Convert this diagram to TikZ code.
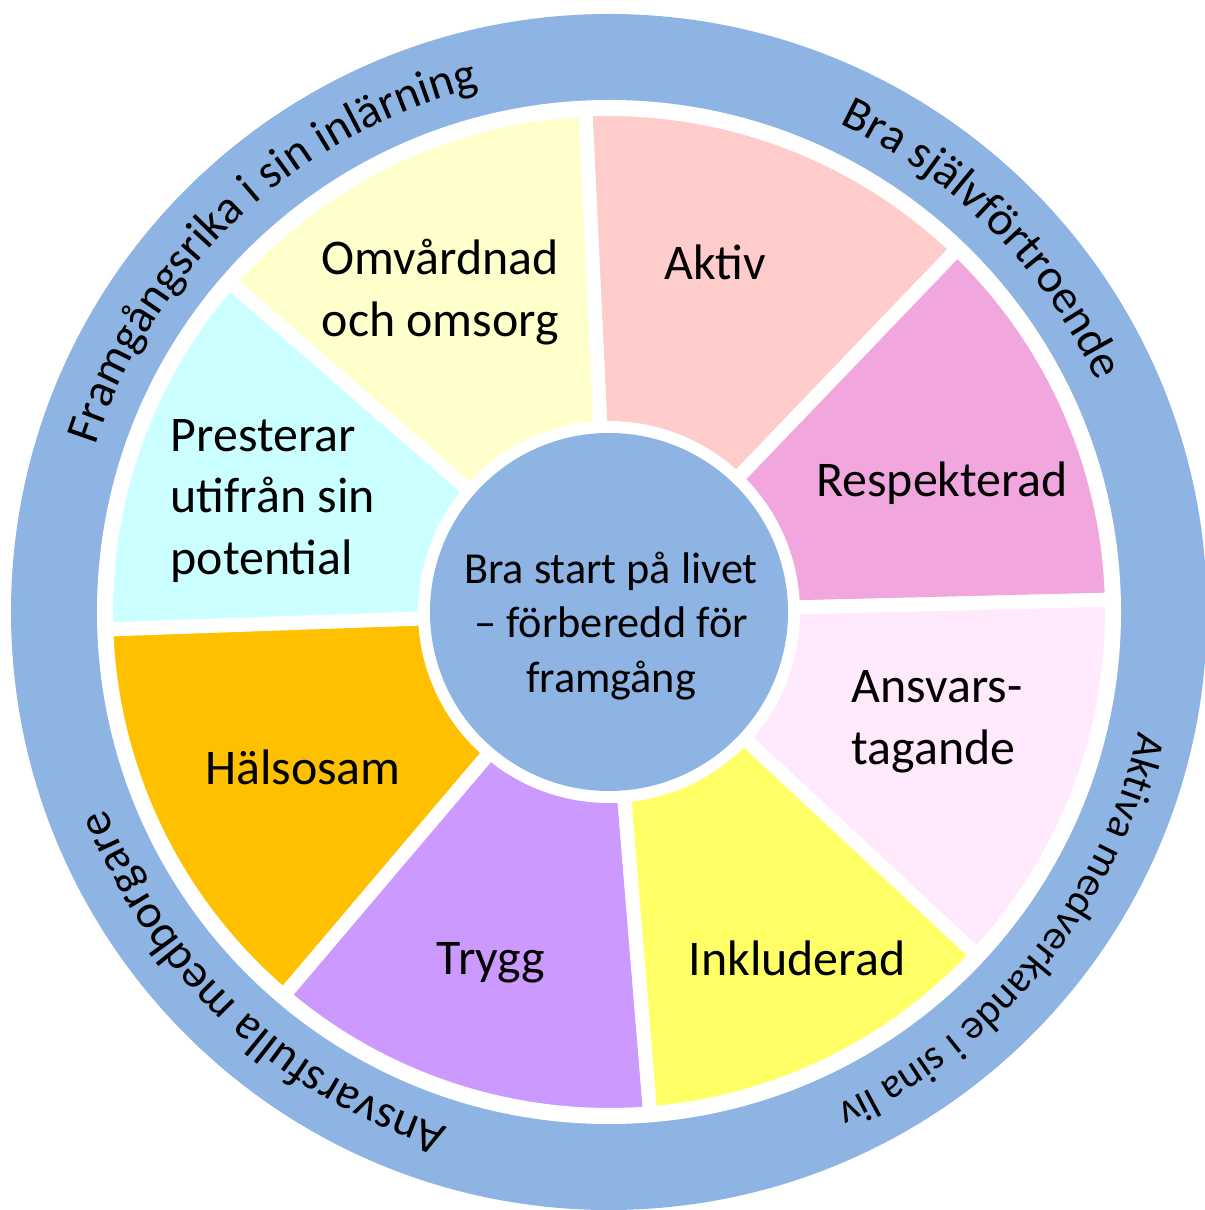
\documentclass[tikz,border=0pt]{standalone}
\usepackage{fontspec}
\setmainfont{Carlito}
\usetikzlibrary{decorations.text}

\definecolor{ringblue}{RGB}{142,180,227}
\definecolor{respcol}{RGB}{241,166,221}
\definecolor{aktivcol}{RGB}{255,204,204}
\definecolor{omvcol}{RGB}{255,255,204}
\definecolor{prestcol}{RGB}{204,255,255}
\definecolor{halscol}{RGB}{255,192,0}
\definecolor{tryggcol}{RGB}{204,153,255}
\definecolor{inklcol}{RGB}{255,255,102}
\definecolor{ansvcol}{RGB}{255,233,252}

\newcommand\ringfont{\fontsize{13.5}{16}\selectfont}
\newcommand\smallringfont{\fontsize{12}{14}\selectfont}

\tikzset{
  sector/.style={draw=white, line width=0.14cm, line join=round},
  seglabel/.style={font=\fontsize{14.2}{17.5}\selectfont, inner sep=0pt},
  ringtext/.style={decorate, decoration={text along path, text align=center, text={#1}}}
}

\begin{document}
\begin{tikzpicture}
%picture
\useasboundingbox (-6.09,-5.98) rectangle (5.95,6.12);
\fill[ringblue] (0,0) circle (5.98);
\fill[white] (0,0) circle (5.12);
%segments
\filldraw[sector, fill=respcol] (1.4:1.84) -- (1.4:5.03) arc (1.4:46.2:5.03) -- (46.2:1.84) arc (46.2:1.4:1.84) -- cycle;
\filldraw[sector, fill=aktivcol] (46.2:1.84) -- (46.2:5.03) arc (46.2:92.7:5.03) -- (92.7:1.84) arc (92.7:46.2:1.84) -- cycle;
\filldraw[sector, fill=omvcol] (92.7:1.84) -- (92.7:5.03) arc (92.7:139:5.03) -- (139:1.84) arc (139:92.7:1.84) -- cycle;
\filldraw[sector, fill=prestcol] (139:1.84) -- (139:5.03) arc (139:182:5.03) -- (182:1.84) arc (182:139:1.84) -- cycle;
\filldraw[sector, fill=halscol] (182:1.84) -- (182:5.03) arc (182:229.7:5.03) -- (229.7:1.84) arc (229.7:182:1.84) -- cycle;
\filldraw[sector, fill=tryggcol] (229.7:1.84) -- (229.7:5.03) arc (229.7:274.7:5.03) -- (274.7:1.84) arc (274.7:229.7:1.84) -- cycle;
\filldraw[sector, fill=inklcol] (274.7:1.84) -- (274.7:5.03) arc (274.7:317:5.03) -- (317:1.84) arc (317:274.7:1.84) -- cycle;
\filldraw[sector, fill=ansvcol] (317:1.84) -- (317:5.03) arc (317:361.4:5.03) -- (361.4:1.84) arc (361.4:317:1.84) -- cycle;
\fill[ringblue] (0,0) circle (1.79);
%labels
\node[seglabel, anchor=west, align=left] (omvardnad) at (-2.88,3.20) {Omvårdnad\\och omsorg};
\node[seglabel] (aktiv) at (1.06,3.50) {Aktiv};
\node[seglabel] (respekterad) at (3.33,1.29) {Respekterad};
\node[seglabel, anchor=west, align=left] (ansvar) at (2.42,-1.10) {Ansvars-\\tagande};
\node[seglabel] (inkluderad) at (1.88,-3.46) {Inkluderad};
\node[seglabel] (trygg) at (-1.18,-3.51) {Trygg};
\node[seglabel] (halsosam) at (-3.06,-1.55) {Hälsosam};
\node[seglabel, anchor=west, align=left] (presterar) at (-4.39,1.11) {Presterar\\utifrån sin\\potential};
\node[font=\fontsize{12.6}{15.4}\selectfont, align=center, inner sep=0pt] (mitt) at (0.02,-0.14) {Bra start på livet\\– förberedd för\\framgång};
%ring texts
\path[ringtext={|\ringfont|Framgångsrika i sin inlärning}] (173:5.40) arc (173:93:5.40);
\path[ringtext={|\ringfont|Bra självförtroende}] (85:5.40) arc (85:5:5.40);
\path[ringtext={|\smallringfont|Aktiva medverkande i sina liv}] (1:5.43) arc (1:-79:5.43);
\path[ringtext={|\ringfont|Ansvarsfulla medborgare}] (267:5.40) arc (267:187:5.40);
\end{tikzpicture}
\end{document}
